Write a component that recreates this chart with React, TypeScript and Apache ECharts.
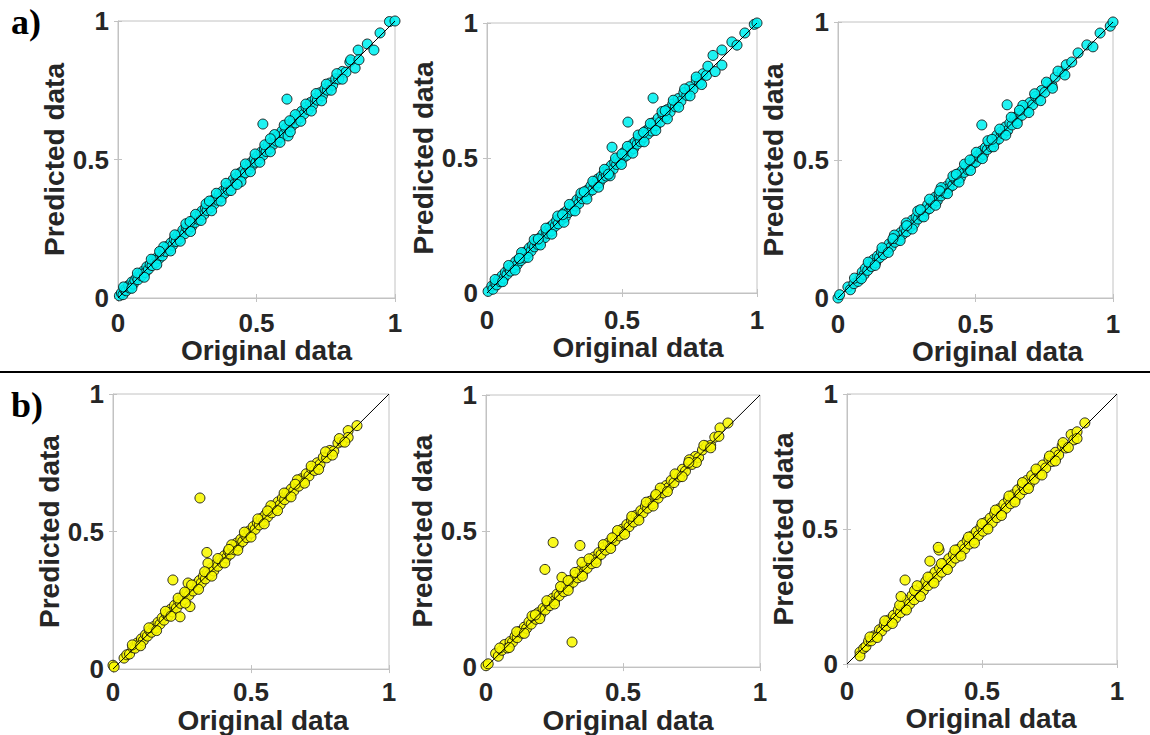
import React, { useEffect, useRef } from "react";
import * as echarts from "echarts";

// ---- data ----
const TICKS = [0, 0.5, 1];
const X_NAME = "Original data";
const Y_NAME = "Predicted data";
const PANEL_LABELS = ["a)", "b)"];
const DIAG = [[0, 0], [1, 1]];

const A1 = [
  [0.005,0.008],[0.012,0.018],[0.018,0.012],[0.024,0.03],[0.03,0.026],[0.038,0.045],[0.042,0.036],[0.05,0.058],
  [0.055,0.05],[0.061,0.064],[0.068,0.075],[0.072,0.066],[0.079,0.088],[0.085,0.08],[0.091,0.097],[0.098,0.092],
  [0.104,0.113],[0.11,0.104],[0.116,0.121],[0.123,0.117],[0.129,0.139],[0.135,0.128],[0.141,0.146],[0.148,0.142],
  [0.153,0.163],[0.16,0.152],[0.166,0.171],[0.172,0.168],[0.178,0.186],[0.185,0.177],[0.191,0.199],[0.197,0.19],
  [0.203,0.212],[0.21,0.204],[0.216,0.226],[0.222,0.214],[0.228,0.231],[0.234,0.245],[0.241,0.232],[0.247,0.255],
  [0.253,0.247],[0.26,0.268],[0.266,0.258],[0.272,0.281],[0.279,0.273],[0.285,0.296],[0.291,0.283],[0.297,0.303],
  [0.303,0.314],[0.31,0.301],[0.316,0.325],[0.322,0.316],[0.329,0.337],[0.335,0.327],[0.341,0.352],[0.347,0.339],
  [0.354,0.36],[0.36,0.353],[0.366,0.377],[0.373,0.364],[0.379,0.387],[0.385,0.378],[0.391,0.401],[0.398,0.389],
  [0.404,0.412],[0.41,0.404],[0.416,0.428],[0.423,0.414],[0.429,0.436],[0.435,0.43],[0.441,0.452],[0.448,0.44],
  [0.454,0.462],[0.46,0.452],[0.466,0.478],[0.473,0.466],[0.479,0.488],[0.485,0.479],[0.492,0.502],[0.498,0.49],
  [0.504,0.513],[0.51,0.502],[0.517,0.527],[0.523,0.515],[0.529,0.538],[0.535,0.529],[0.542,0.553],[0.548,0.54],
  [0.554,0.562],[0.561,0.555],[0.567,0.579],[0.573,0.566],[0.58,0.589],[0.586,0.58],[0.592,0.603],[0.6,0.592],
  [0.606,0.613],[0.614,0.585],[0.62,0.628],[0.627,0.62],[0.634,0.645],[0.641,0.632],[0.648,0.656],[0.656,0.65],
  [0.663,0.674],[0.671,0.664],[0.679,0.688],[0.687,0.68],[0.695,0.706],[0.703,0.696],[0.712,0.72],[0.72,0.714],
  [0.729,0.741],[0.738,0.73],[0.747,0.755],[0.756,0.75],[0.765,0.776],[0.775,0.768],[0.786,0.792],[0.797,0.79],
  [0.81,0.818],[0.823,0.815],[0.837,0.852],[0.856,0.83],[0.867,0.895],[0.9,0.917],[0.924,0.895],[0.946,0.957],
  [0.98,0.998],[1.0,1.0],[0.523,0.628],[0.61,0.718]
];
const A1_SPREAD = [
  [0.02,0.04],[0.05,0.035],[0.07,0.09],[0.095,0.075],[0.12,0.14],[0.14,0.12],[0.165,0.185],[0.19,0.17],
  [0.205,0.228],[0.225,0.205],[0.245,0.268],[0.262,0.24],[0.28,0.302],[0.3,0.28],[0.318,0.34],[0.338,0.315],
  [0.355,0.378],[0.372,0.35],[0.39,0.414],[0.408,0.388],[0.425,0.447],[0.444,0.42],[0.46,0.484],[0.478,0.456],
  [0.495,0.52],[0.512,0.49],[0.53,0.553],[0.55,0.528],[0.565,0.59],[0.585,0.562],[0.6,0.624],[0.622,0.6],
  [0.64,0.662],[0.66,0.638],[0.678,0.7],[0.698,0.675],[0.715,0.738],[0.735,0.712],[0.752,0.772],[0.77,0.75],
  [0.79,0.81],[0.81,0.79],[0.84,0.86],[0.87,0.86],[0.55,0.575],[0.33,0.35],[0.43,0.41],[0.15,0.168],
  [0.26,0.276],[0.62,0.64]
];

const A2 = [
  [0.004,0.006],[0.018,0.026],[0.022,0.014],[0.03,0.036],[0.036,0.03],[0.043,0.05],[0.049,0.042],[0.056,0.064],
  [0.062,0.055],[0.068,0.077],[0.074,0.069],[0.081,0.09],[0.087,0.081],[0.093,0.1],[0.1,0.094],[0.106,0.116],
  [0.112,0.105],[0.119,0.127],[0.125,0.12],[0.131,0.142],[0.138,0.13],[0.144,0.153],[0.15,0.146],[0.157,0.167],
  [0.163,0.155],[0.169,0.178],[0.176,0.171],[0.182,0.193],[0.188,0.18],[0.195,0.203],[0.201,0.196],[0.207,0.218],
  [0.214,0.205],[0.22,0.229],[0.226,0.221],[0.233,0.244],[0.239,0.23],[0.245,0.254],[0.252,0.247],[0.258,0.269],
  [0.264,0.256],[0.271,0.279],[0.277,0.272],[0.283,0.295],[0.29,0.281],[0.296,0.305],[0.302,0.298],[0.309,0.32],
  [0.315,0.306],[0.321,0.331],[0.328,0.322],[0.334,0.346],[0.34,0.331],[0.347,0.356],[0.353,0.349],[0.359,0.371],
  [0.366,0.357],[0.372,0.381],[0.378,0.374],[0.385,0.397],[0.391,0.382],[0.397,0.407],[0.404,0.4],[0.41,0.422],
  [0.416,0.408],[0.423,0.432],[0.429,0.425],[0.435,0.448],[0.442,0.433],[0.448,0.459],[0.454,0.45],[0.461,0.473],
  [0.467,0.458],[0.473,0.484],[0.48,0.476],[0.486,0.498],[0.492,0.484],[0.499,0.509],[0.505,0.5],[0.511,0.524],
  [0.518,0.51],[0.524,0.535],[0.53,0.526],[0.537,0.55],[0.543,0.535],[0.549,0.56],[0.556,0.551],[0.562,0.575],
  [0.568,0.561],[0.575,0.586],[0.581,0.577],[0.588,0.6],[0.595,0.588],[0.603,0.614],[0.61,0.6],[0.615,0.63],
  [0.618,0.628],[0.626,0.62],[0.634,0.647],[0.642,0.633],[0.651,0.662],[0.66,0.652],[0.669,0.68],[0.678,0.67],
  [0.688,0.7],[0.698,0.69],[0.708,0.72],[0.718,0.71],[0.729,0.742],[0.74,0.732],[0.751,0.764],[0.763,0.755],
  [0.775,0.79],[0.787,0.779],[0.8,0.812],[0.813,0.806],[0.837,0.88],[0.87,0.9],[0.87,0.844],[0.907,0.93],
  [0.926,0.918],[0.955,0.963],[0.99,0.995],[1.0,1.0],[0.463,0.54],[0.522,0.633],[0.615,0.722]
];
const A2_SPREAD = [
  [0.03,0.05],[0.058,0.042],[0.08,0.102],[0.104,0.085],[0.128,0.15],[0.152,0.132],[0.175,0.198],[0.198,0.178],
  [0.218,0.24],[0.24,0.218],[0.262,0.285],[0.285,0.262],[0.305,0.328],[0.326,0.304],[0.348,0.37],[0.37,0.348],
  [0.392,0.414],[0.413,0.392],[0.435,0.458],[0.456,0.434],[0.476,0.5],[0.498,0.476],[0.52,0.543],[0.54,0.518],
  [0.56,0.585],[0.582,0.56],[0.605,0.628],[0.625,0.602],[0.648,0.672],[0.668,0.645],[0.69,0.714],[0.71,0.688],
  [0.732,0.756],[0.752,0.73],[0.775,0.8],[0.795,0.772],[0.818,0.84],[0.845,0.82],[0.19,0.2],[0.36,0.375],
  [0.45,0.44],[0.58,0.595],[0.66,0.675],[0.12,0.128],[0.28,0.29],[0.5,0.515]
];

const A3 = [
  [0.0,0.0],[0.006,0.012],[0.036,0.04],[0.045,0.03],[0.058,0.052],[0.073,0.06],[0.08,0.075],[0.088,0.094],
  [0.095,0.085],[0.1,0.108],[0.108,0.1],[0.115,0.125],[0.122,0.114],[0.13,0.14],[0.137,0.128],[0.144,0.152],
  [0.151,0.146],[0.158,0.168],[0.165,0.157],[0.172,0.18],[0.179,0.175],[0.186,0.196],[0.193,0.185],[0.2,0.208],
  [0.207,0.202],[0.214,0.225],[0.221,0.212],[0.228,0.237],[0.235,0.23],[0.242,0.253],[0.249,0.24],[0.256,0.264],
  [0.263,0.258],[0.27,0.282],[0.277,0.268],[0.284,0.293],[0.291,0.286],[0.298,0.31],[0.305,0.296],[0.312,0.32],
  [0.319,0.315],[0.326,0.338],[0.333,0.324],[0.34,0.348],[0.347,0.343],[0.354,0.366],[0.361,0.352],[0.368,0.378],
  [0.375,0.37],[0.382,0.393],[0.389,0.38],[0.396,0.405],[0.403,0.398],[0.41,0.421],[0.417,0.408],[0.424,0.432],
  [0.431,0.426],[0.438,0.45],[0.445,0.436],[0.452,0.462],[0.459,0.455],[0.466,0.478],[0.473,0.464],[0.48,0.49],
  [0.487,0.483],[0.494,0.505],[0.501,0.492],[0.508,0.516],[0.515,0.51],[0.522,0.533],[0.529,0.52],[0.536,0.545],
  [0.543,0.538],[0.55,0.562],[0.557,0.548],[0.564,0.573],[0.571,0.566],[0.578,0.59],[0.585,0.576],[0.593,0.602],
  [0.601,0.595],[0.609,0.62],[0.617,0.607],[0.625,0.634],[0.633,0.627],[0.642,0.654],[0.651,0.641],[0.66,0.67],
  [0.669,0.662],[0.678,0.69],[0.688,0.679],[0.698,0.708],[0.708,0.7],[0.718,0.73],[0.728,0.72],[0.74,0.752],
  [0.752,0.745],[0.765,0.778],[0.778,0.77],[0.79,0.8],[0.815,0.82],[0.83,0.845],[0.85,0.855],[0.873,0.888],
  [0.905,0.917],[0.927,0.91],[0.953,0.96],[0.99,0.985],[1.0,1.0],[0.523,0.627],[0.615,0.7]
];
const A3_SPREAD = [
  [0.06,0.072],[0.085,0.07],[0.11,0.13],[0.135,0.118],[0.16,0.182],[0.183,0.165],[0.205,0.228],[0.226,0.208],
  [0.248,0.272],[0.27,0.25],[0.29,0.315],[0.312,0.294],[0.333,0.358],[0.355,0.336],[0.375,0.4],[0.398,0.378],
  [0.418,0.442],[0.44,0.42],[0.46,0.485],[0.482,0.462],[0.503,0.528],[0.525,0.505],[0.545,0.57],[0.566,0.548],
  [0.588,0.612],[0.61,0.59],[0.63,0.655],[0.652,0.632],[0.672,0.698],[0.694,0.672],[0.715,0.74],[0.737,0.715],
  [0.758,0.782],[0.78,0.76],[0.8,0.822],[0.825,0.808],[0.3,0.32],[0.37,0.388],[0.43,0.448],[0.25,0.262],
  [0.56,0.575],[0.66,0.68],[0.2,0.215],[0.48,0.5]
];

const B1 = [
  [0.0,0.014],[0.004,0.008],[0.04,0.04],[0.05,0.052],[0.06,0.055],[0.072,0.078],[0.08,0.076],[0.088,0.095],
  [0.095,0.09],[0.103,0.11],[0.11,0.104],[0.118,0.125],[0.125,0.12],[0.133,0.14],[0.14,0.134],[0.148,0.155],
  [0.155,0.149],[0.163,0.17],[0.17,0.163],[0.178,0.186],[0.185,0.178],[0.193,0.2],[0.2,0.194],[0.208,0.217],
  [0.215,0.208],[0.223,0.232],[0.23,0.222],[0.238,0.247],[0.245,0.239],[0.253,0.262],[0.26,0.253],[0.268,0.278],
  [0.275,0.268],[0.283,0.292],[0.29,0.284],[0.298,0.307],[0.305,0.298],[0.313,0.322],[0.32,0.313],[0.328,0.338],
  [0.335,0.328],[0.343,0.352],[0.35,0.343],[0.358,0.368],[0.365,0.357],[0.373,0.382],[0.38,0.374],[0.388,0.398],
  [0.395,0.388],[0.403,0.412],[0.41,0.404],[0.418,0.428],[0.425,0.418],[0.433,0.442],[0.44,0.434],[0.448,0.458],
  [0.455,0.448],[0.463,0.472],[0.47,0.464],[0.478,0.488],[0.485,0.478],[0.493,0.502],[0.5,0.494],[0.508,0.518],
  [0.515,0.508],[0.523,0.532],[0.53,0.524],[0.538,0.548],[0.545,0.538],[0.553,0.562],[0.56,0.553],[0.568,0.578],
  [0.575,0.568],[0.583,0.592],[0.59,0.584],[0.598,0.608],[0.606,0.598],[0.614,0.622],[0.622,0.616],[0.63,0.64],
  [0.638,0.63],[0.646,0.655],[0.655,0.648],[0.664,0.672],[0.673,0.665],[0.682,0.692],[0.691,0.684],[0.7,0.71],
  [0.71,0.702],[0.72,0.728],[0.73,0.722],[0.74,0.75],[0.75,0.744],[0.762,0.77],[0.774,0.768],[0.786,0.795],
  [0.8,0.792],[0.815,0.822],[0.83,0.826],[0.852,0.867],[0.852,0.842],[0.884,0.885],
  [0.315,0.622],[0.34,0.424],[0.217,0.324],[0.279,0.227],[0.243,0.19],[0.272,0.313],[0.344,0.385]
];
const B1_SPREAD = [
  [0.07,0.088],[0.1,0.085],[0.13,0.15],[0.158,0.14],[0.19,0.21],[0.21,0.192],[0.236,0.258],[0.262,0.24],
  [0.285,0.306],[0.31,0.29],[0.332,0.354],[0.358,0.338],[0.38,0.402],[0.405,0.386],[0.43,0.452],[0.452,0.432],
  [0.476,0.498],[0.5,0.48],[0.525,0.546],[0.548,0.528],[0.572,0.594],[0.596,0.576],[0.62,0.64],[0.645,0.626],
  [0.668,0.688],[0.694,0.676],[0.718,0.738],[0.745,0.726],[0.77,0.79],[0.795,0.778],[0.82,0.838],[0.84,0.825],
  [0.26,0.28],[0.42,0.435],[0.56,0.575],[0.66,0.672]
];

const B2 = [
  [0.0,0.005],[0.008,0.012],[0.035,0.05],[0.045,0.04],[0.058,0.062],[0.068,0.083],[0.078,0.07],[0.088,0.094],
  [0.097,0.092],[0.106,0.113],[0.114,0.108],[0.123,0.131],[0.131,0.125],[0.14,0.147],[0.148,0.142],[0.157,0.166],
  [0.165,0.158],[0.174,0.182],[0.182,0.176],[0.191,0.2],[0.199,0.192],[0.208,0.216],[0.216,0.21],[0.225,0.235],
  [0.233,0.226],[0.242,0.252],[0.25,0.244],[0.259,0.268],[0.267,0.262],[0.276,0.287],[0.284,0.277],[0.293,0.303],
  [0.301,0.295],[0.31,0.32],[0.318,0.312],[0.327,0.338],[0.335,0.328],[0.344,0.355],[0.352,0.345],[0.361,0.37],
  [0.369,0.363],[0.378,0.388],[0.386,0.38],[0.395,0.405],[0.403,0.397],[0.412,0.421],[0.42,0.414],[0.429,0.44],
  [0.437,0.43],[0.446,0.456],[0.454,0.448],[0.463,0.473],[0.471,0.465],[0.48,0.49],[0.488,0.482],[0.497,0.507],
  [0.505,0.499],[0.514,0.524],[0.522,0.516],[0.531,0.541],[0.539,0.533],[0.548,0.558],[0.556,0.55],[0.565,0.575],
  [0.573,0.567],[0.582,0.592],[0.59,0.584],[0.6,0.61],[0.609,0.601],[0.619,0.628],[0.628,0.621],[0.638,0.648],
  [0.647,0.64],[0.657,0.667],[0.666,0.66],[0.676,0.686],[0.686,0.678],[0.696,0.706],[0.706,0.699],[0.717,0.727],
  [0.728,0.72],[0.74,0.748],[0.752,0.745],[0.764,0.774],[0.776,0.77],[0.79,0.798],[0.805,0.812],[0.82,0.815],
  [0.835,0.845],[0.854,0.879],[0.85,0.848],[0.883,0.897],
  [0.245,0.458],[0.343,0.447],[0.215,0.359],[0.314,0.092],[0.35,0.385],[0.277,0.33]
];
const B2_SPREAD = [
  [0.05,0.07],[0.085,0.072],[0.112,0.13],[0.14,0.124],[0.168,0.188],[0.196,0.178],[0.222,0.244],[0.25,0.232],
  [0.272,0.296],[0.3,0.282],[0.325,0.348],[0.352,0.334],[0.376,0.398],[0.402,0.384],[0.428,0.45],[0.455,0.436],
  [0.48,0.502],[0.506,0.488],[0.532,0.554],[0.558,0.54],[0.585,0.606],[0.61,0.592],[0.636,0.658],[0.662,0.645],
  [0.69,0.71],[0.716,0.7],[0.742,0.762],[0.768,0.752],[0.795,0.815],[0.82,0.806],[0.3,0.318],[0.46,0.475],
  [0.62,0.634],[0.74,0.752],[0.18,0.192]
];

const B3 = [
  [0.048,0.044],[0.048,0.03],[0.062,0.058],[0.07,0.065],[0.08,0.085],[0.09,0.086],[0.1,0.104],[0.11,0.102],
  [0.12,0.127],[0.128,0.122],[0.138,0.146],[0.146,0.14],[0.155,0.163],[0.163,0.156],[0.172,0.18],[0.18,0.17],
  [0.19,0.2],[0.198,0.19],[0.207,0.218],[0.215,0.205],[0.224,0.236],[0.232,0.222],[0.241,0.254],[0.249,0.238],
  [0.258,0.27],[0.266,0.256],[0.275,0.288],[0.283,0.272],[0.292,0.306],[0.3,0.29],[0.309,0.322],[0.317,0.306],
  [0.326,0.34],[0.334,0.322],[0.343,0.356],[0.351,0.34],[0.36,0.372],[0.368,0.357],[0.377,0.39],[0.385,0.374],
  [0.394,0.406],[0.402,0.392],[0.411,0.424],[0.419,0.41],[0.428,0.44],[0.436,0.426],[0.445,0.458],[0.453,0.444],
  [0.462,0.474],[0.47,0.46],[0.479,0.49],[0.487,0.476],[0.496,0.507],[0.504,0.492],[0.513,0.524],[0.521,0.508],
  [0.53,0.54],[0.538,0.524],[0.547,0.558],[0.555,0.542],[0.564,0.575],[0.572,0.56],[0.581,0.592],[0.589,0.577],
  [0.598,0.61],[0.606,0.594],[0.615,0.627],[0.623,0.61],[0.632,0.645],[0.64,0.628],[0.649,0.662],[0.657,0.646],
  [0.666,0.68],[0.675,0.664],[0.684,0.698],[0.694,0.684],[0.704,0.716],[0.714,0.704],[0.725,0.737],[0.736,0.726],
  [0.748,0.76],[0.76,0.75],[0.772,0.784],[0.784,0.774],[0.797,0.808],[0.81,0.8],[0.83,0.85],[0.84,0.83],
  [0.852,0.86],[0.852,0.835],[0.881,0.893],
  [0.215,0.311],[0.307,0.381],[0.341,0.422],[0.338,0.432]
];
const B3_SPREAD = [
  [0.085,0.1],[0.112,0.098],[0.14,0.16],[0.168,0.15],[0.195,0.218],[0.22,0.2],[0.25,0.272],[0.272,0.25],
  [0.3,0.322],[0.322,0.3],[0.35,0.372],[0.372,0.35],[0.4,0.422],[0.422,0.4],[0.45,0.47],[0.472,0.448],
  [0.5,0.52],[0.522,0.5],[0.55,0.57],[0.572,0.55],[0.6,0.622],[0.622,0.6],[0.65,0.672],[0.672,0.65],
  [0.7,0.722],[0.722,0.7],[0.75,0.77],[0.772,0.752],[0.8,0.82],[0.82,0.802],[0.2,0.25],[0.26,0.29]
];

const SERIES_DATA = [
  [...A1, ...A1_SPREAD],
  [...A2, ...A2_SPREAD],
  [...A3, ...A3_SPREAD],
  [...B1, ...B1_SPREAD],
  [...B2, ...B2_SPREAD],
  [...B3, ...B3_SPREAD],
];
const CYAN = "#00f0f0";
const YELLOW = "#f8f800";
const COLORS = [CYAN, CYAN, CYAN, YELLOW, YELLOW, YELLOW];

// ---- layout ----
const LAYOUT = [
  { left: 118, top: 21, width: 277, height: 277, gapX: 36, gapY: 49, marginX: 12, shift: 10 },
  { left: 487, top: 23, width: 270, height: 270, gapX: 38, gapY: 50, marginX: 14, shift: 16 },
  { left: 838, top: 22, width: 275, height: 276, gapX: 35, gapY: 51, marginX: 13, shift: 22 },
  { left: 113, top: 394, width: 276, height: 278, gapX: 30, gapY: 46, marginX: 10, shift: 12 },
  { left: 486, top: 395, width: 274, height: 273, gapX: 32, gapY: 49, marginX: 12, shift: 5 },
  { left: 847, top: 394, width: 270, height: 270, gapX: 36, gapY: 49, marginX: 14, shift: 9 },
];

const FONT = "'Liberation Sans', Arial, sans-serif";
const TEXT_COLOR = "#262626";
const BOX = "#c2c2c2";
const PANEL_FONT = "bold 36px 'Liberation Serif', 'Times New Roman', serif";

export default function App() {
  const ref = useRef<HTMLDivElement>(null);

  useEffect(() => {
    if (!ref.current) return;
    const chart = echarts.init(ref.current, null, { renderer: "svg" });

    const grid = LAYOUT.map((l) => ({
      left: l.left, top: l.top, width: l.width, height: l.height,
      show: true, borderColor: BOX, borderWidth: 1, containLabel: false,
    }));

    const xAxis: any[] = [];
    const yAxis: any[] = [];
    LAYOUT.forEach((l, i) => {
      xAxis.push({
        type: "value", gridIndex: i, position: "bottom", min: TICKS[0], max: TICKS[TICKS.length - 1], interval: 0.5,
        name: X_NAME, nameLocation: "middle", nameGap: l.gapX,
        nameTextStyle: { fontFamily: FONT, fontWeight: "bold", fontSize: 28, color: TEXT_COLOR, padding: [0, 0, 0, l.shift * 2] },
        axisLine: { show: true, lineStyle: { color: BOX, width: 1 } },
        axisTick: { show: true, inside: true, length: 4, lineStyle: { color: BOX } },
        splitLine: { show: false },
        axisLabel: { fontFamily: FONT, fontWeight: "bold", fontSize: 26, color: TEXT_COLOR, margin: l.marginX },
      });
      yAxis.push({
        type: "value", gridIndex: i, position: "left", min: TICKS[0], max: TICKS[TICKS.length - 1], interval: 0.5,
        name: Y_NAME, nameLocation: "middle", nameGap: l.gapY,
        nameTextStyle: { fontFamily: FONT, fontWeight: "bold", fontSize: 28, color: TEXT_COLOR },
        axisLine: { show: true, lineStyle: { color: BOX, width: 1 } },
        axisTick: { show: true, inside: true, length: 4, lineStyle: { color: BOX } },
        splitLine: { show: false },
        axisLabel: { fontFamily: FONT, fontWeight: "bold", fontSize: 26, color: TEXT_COLOR, margin: 9 },
      });
    });
    // mirrored (top / right) axes carrying only inside ticks
    LAYOUT.forEach((l, i) => {
      xAxis.push({
        type: "value", gridIndex: i, position: "top", min: 0, max: 1, interval: 0.5,
        axisLine: { show: false }, axisLabel: { show: false }, splitLine: { show: false },
        axisTick: { show: true, inside: true, length: 4, lineStyle: { color: BOX } },
      });
      yAxis.push({
        type: "value", gridIndex: i, position: "right", min: 0, max: 1, interval: 0.5,
        axisLine: { show: false }, axisLabel: { show: false }, splitLine: { show: false },
        axisTick: { show: true, inside: true, length: 4, lineStyle: { color: BOX } },
      });
    });

    const series: any[] = [];
    SERIES_DATA.forEach((d, i) => {
      series.push({
        type: "scatter", xAxisIndex: i, yAxisIndex: i, data: d, symbolSize: 10, z: 2,
        itemStyle: { color: COLORS[i], borderColor: "#101010", borderWidth: 1, opacity: 0.88 },
      });
    });
    SERIES_DATA.forEach((_, i) => {
      series.push({
        type: "line", xAxisIndex: i, yAxisIndex: i, data: DIAG, symbol: "none", z: 3, silent: true,
        lineStyle: { color: "#000", width: 1 },
      });
    });

    chart.setOption({
      animation: false,
      backgroundColor: "#ffffff",
      grid, xAxis, yAxis, series,
      graphic: [
        {
          type: "line", shape: { x1: 0, y1: 372, x2: 1150, y2: 372 },
          style: { stroke: "#000", lineWidth: 2 },
        },
        {
          type: "text", left: 11, top: 4,
          style: { text: PANEL_LABELS[0], font: PANEL_FONT, fill: "#000" },
        },
        {
          type: "text", left: 11, top: 387,
          style: { text: PANEL_LABELS[1], font: PANEL_FONT, fill: "#000" },
        },
      ],
    });

    return () => chart.dispose();
  }, []);

  return (
    <div
      ref={ref}
      style={{ position: "absolute", left: 0, top: 0, width: 1150, height: 735, background: "#fff" }}
    />
  );
}
